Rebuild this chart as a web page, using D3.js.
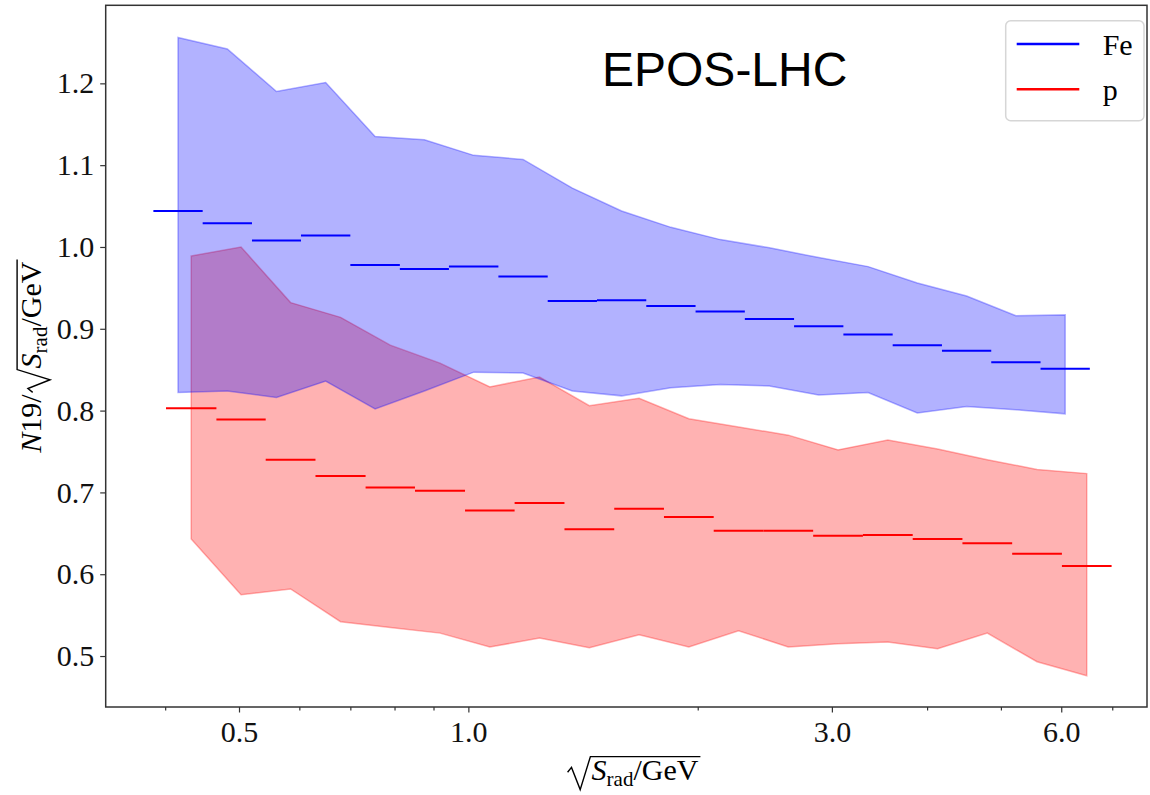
<html>
<head>
    <style>
        body {
            margin: 0;
            background: #fff;
        }
    </style>
</head>
<body>
<svg width='1150' height='795'></svg>
<script src='https://cdnjs.cloudflare.com/ajax/libs/d3/7.8.5/d3.min.js'></script>
<script>
    // bin edges (sqrt(S_rad)/GeV) and N19 values
    const feEdges = [0.386, 0.448, 0.520, 0.603, 0.700, 0.813, 0.943, 1.095, 1.271, 1.475, 1.712,
        1.987, 2.306, 2.676, 3.106, 3.605, 4.184, 4.856, 5.636, 6.541];
    const feN19 = [1.044, 1.029, 1.008, 1.014, 0.978, 0.973, 0.976, 0.964, 0.934, 0.935,
        0.928, 0.921, 0.912, 0.903, 0.893, 0.880, 0.873, 0.859, 0.851];
    const feUpper = [1.256, 1.242, 1.190, 1.201, 1.135, 1.131, 1.112, 1.107, 1.072, 1.044,
        1.024, 1.009, 0.999, 0.987, 0.976, 0.956, 0.940, 0.916, 0.917];
    const feLower = [0.822, 0.824, 0.816, 0.836, 0.802, 0.824, 0.847, 0.846, 0.824, 0.818,
        0.828, 0.832, 0.830, 0.819, 0.822, 0.797, 0.805, 0.801, 0.796];

    const pEdges = [0.401, 0.467, 0.542, 0.630, 0.733, 0.851, 0.990, 1.150, 1.337, 1.554, 1.806,
        2.099, 2.439, 2.835, 3.295, 3.830, 4.451, 5.173, 6.012, 6.986];
    const pN19 = [0.803, 0.789, 0.740, 0.720, 0.706, 0.702, 0.678, 0.687, 0.655, 0.680,
        0.670, 0.653, 0.653, 0.647, 0.648, 0.643, 0.638, 0.625, 0.610];
    const pUpper = [0.989, 1.000, 0.932, 0.914, 0.880, 0.858, 0.829, 0.841, 0.806, 0.815,
        0.790, 0.780, 0.770, 0.752, 0.764, 0.753, 0.740, 0.728, 0.723];
    const pLower = [0.643, 0.575, 0.582, 0.542, 0.535, 0.528, 0.511, 0.522, 0.510, 0.526,
        0.511, 0.531, 0.511, 0.515, 0.517, 0.509, 0.528, 0.493, 0.476];

    const xLimits = [0.3342, 7.775];
    const yLimits = [0.4377, 1.2954];
    const xTicks = [0.5, 1.0, 3.0, 6.0];
    const xMinorTicks = [0.4, 0.6, 0.7, 0.8, 0.9, 2, 4, 5, 7];
    const yTicks = [0.5, 0.6, 0.7, 0.8, 0.9, 1.0, 1.1, 1.2];

    const series = [
        {label: 'p', color: '#ff0000', edges: pEdges, values: pN19, upper: pUpper, lower: pLower},
        {label: 'Fe', color: '#0000ff', edges: feEdges, values: feN19, upper: feUpper, lower: feLower}
    ];

    const serif = '"Liberation Serif", serif';
    const plotLeft = 105.7, plotRight = 1147, plotTop = 5.3, plotBottom = 707;
    const fontSize = 30;

    const svg = d3.select('svg');

    const x = d3.scaleLog().domain(xLimits).range([plotLeft, plotRight]);
    const y = d3.scaleLinear().domain(yLimits).range([plotBottom, plotTop]);

    const centers = edges => edges.slice(0, -1).map((e, i) => Math.sqrt(e * edges[i + 1]));

    // bands
    series.forEach(s => {
        const c = centers(s.edges);
        const area = d3.area()
            .x((d, i) => x(c[i]))
            .y0((d, i) => y(s.lower[i]))
            .y1((d, i) => y(s.upper[i]));
        svg.append('path')
            .datum(s.upper)
            .attr('d', area)
            .attr('fill', s.color)
            .attr('fill-opacity', 0.3)
            .attr('stroke', s.color)
            .attr('stroke-opacity', 0.3)
            .attr('stroke-width', 1.5);
    });

    // bin segments
    series.forEach(s => {
        svg.append('g')
            .selectAll('line')
            .data(s.values)
            .enter()
            .append('line')
            .attr('x1', (d, i) => x(s.edges[i]))
            .attr('x2', (d, i) => x(s.edges[i + 1]))
            .attr('y1', d => y(d))
            .attr('y2', d => y(d))
            .attr('stroke', s.color)
            .attr('stroke-width', 2);
    });

    // axes
    function styleAxis (g) {
        g.select('.domain').remove();
        g.selectAll('.tick line').attr('stroke', '#333').attr('stroke-width', 1.2);
        g.selectAll('.tick text').attr('fill', '#111');
        g.attr('font-family', serif).attr('font-size', fontSize);
    }

    svg.append('g')
        .attr('transform', `translate(0,${plotBottom})`)
        .call(d3.axisBottom(x).tickValues(xTicks).tickFormat(d3.format('.1f')).tickSize(5.5).tickPadding(8))
        .call(styleAxis);

    svg.append('g')
        .attr('transform', `translate(0,${plotBottom})`)
        .call(d3.axisBottom(x).tickValues(xMinorTicks).tickFormat('').tickSize(3.5))
        .call(styleAxis);

    svg.append('g')
        .attr('transform', `translate(${plotLeft},0)`)
        .call(d3.axisLeft(y).tickValues(yTicks).tickFormat(d3.format('.1f')).tickSize(5.5).tickPadding(6))
        .call(styleAxis);

    svg.append('rect')
        .attr('x', plotLeft)
        .attr('y', plotTop)
        .attr('width', plotRight - plotLeft)
        .attr('height', plotBottom - plotTop)
        .attr('fill', 'none')
        .attr('stroke', '#333')
        .attr('stroke-width', 1.5);

    // sqrt(S_rad/GeV) label, baseline at y = 0 of the group, centred on x = 0
    function sqrtLabel (parent, withPrefix) {
        const s = fontSize;
        const g = parent.append('g');
        let cursor = 0;
        if (withPrefix) {
            const t = g.append('text').attr('font-family', serif).attr('font-size', s);
            t.append('tspan').attr('font-style', 'italic').text('N');
            t.append('tspan').text('19/');
            cursor = t.node().getComputedTextLength() + 2;
        }
        const r0 = cursor;
        const t2 = g.append('text')
            .attr('x', r0 + 0.8 * s)
            .attr('font-family', serif)
            .attr('font-size', s);
        t2.append('tspan').attr('font-style', 'italic').text('S');
        t2.append('tspan').attr('font-size', s * 0.7).attr('dy', 0.2 * s).text('rad');
        t2.append('tspan').attr('dy', -0.2 * s).text('/GeV');
        const end = r0 + 0.8 * s + t2.node().getComputedTextLength() + 2;
        g.append('path')
            .attr('d', `M${r0},${-0.26 * s} L${r0 + 0.13 * s},${-0.42 * s} L${r0 + 0.42 * s},${0.32 * s} ` +
                `L${r0 + 0.76 * s},${-0.78 * s} L${end},${-0.78 * s}`)
            .attr('fill', 'none')
            .attr('stroke', '#000')
            .attr('stroke-width', 1.4);
        g.attr('transform', `translate(${-end / 2},0)`);
    }

    sqrtLabel(svg.append('g').attr('transform', 'translate(634,780)'), false);
    sqrtLabel(svg.append('g').attr('transform', `translate(40.5,${(plotTop + plotBottom) / 2}) rotate(-90)`), true);

    // title
    svg.append('text')
        .attr('x', 602)
        .attr('y', 86)
        .attr('font-family', '"Liberation Sans", Arial, sans-serif')
        .attr('font-size', 48)
        .text('EPOS-LHC');

    // legend
    const legend = svg.append('g');
    legend.append('rect')
        .attr('x', 1005.7)
        .attr('y', 20.7)
        .attr('width', 138.3)
        .attr('height', 100)
        .attr('rx', 5)
        .attr('fill', '#fff')
        .attr('fill-opacity', 0.8)
        .attr('stroke', '#d6d6d6')
        .attr('stroke-width', 1.5);

    const legendItems = [series[1], series[0]];
    legendItems.forEach((s, i) => {
        const ly = 44 + i * 45.3;
        legend.append('line')
            .attr('x1', 1016.7)
            .attr('x2', 1079.3)
            .attr('y1', ly)
            .attr('y2', ly)
            .attr('stroke', s.color)
            .attr('stroke-width', 2.5);
        legend.append('text')
            .attr('x', 1102.7)
            .attr('y', ly + 11)
            .attr('font-family', serif)
            .attr('font-size', fontSize)
            .text(s.label);
    });
</script>
</body>
</html>
